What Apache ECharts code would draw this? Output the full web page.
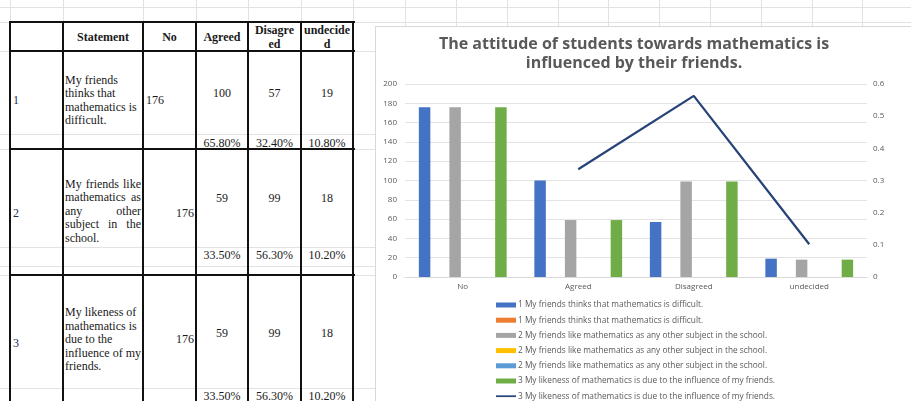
<!DOCTYPE html>
<html>
<head>
<meta charset="utf-8">
<script src="https://cdn.jsdelivr.net/npm/echarts@6/dist/echarts.min.js"></script>
<style>
  html, body { margin:0; padding:0; width:911px; height:401px; overflow:hidden; background:#fff; }
  .hl { position:absolute; height:1px; background:#e2e2e2; }
  .vl { position:absolute; width:1px; background:#e2e2e2; }
  .bh { position:absolute; height:2px; background:#111; }
  .bv { position:absolute; width:2px; background:#111; }
  .t { position:absolute; font-family:"Liberation Serif","Times New Roman",serif; font-size:12px; color:#1a1a1a; line-height:13px; white-space:nowrap; transform:translateY(-50%); }
  .b { font-weight:bold; }
  .c { text-align:center; }
  .j { text-align:justify; text-align-last:justify; }
  #box { position:absolute; left:375px; top:26px; width:540px; height:440px; border-left:1px solid #d9d9d9; border-top:1px solid #d9d9d9; background:#fff; }
  #chart { position:absolute; left:0; top:0; width:535px; height:420px; }
</style>
</head>
<body>
<div id="sheet"></div>
<div id="box"><div id="chart"></div></div>
<script>
// ---------- data ----------
var categories = ['No', 'Agreed', 'Disagreed', 'undecided'];
var s1Counts = [176, 100, 57, 19];          // 1 My friends thinks that mathematics is difficult.
var s1Second = [null, null, null, null];    // 1 ... second row (no visible bars)
var s2Counts = [176, 59, 99, 18];           // 2 My friends like mathematics ...
var s2Second = [null, null, null, null];    // 2 ... (no visible bars)
var s2Third = [null, null, null, null];     // 2 ... (no visible bars)
var s3Counts = [176, 59, 99, 18];           // 3 My likeness of mathematics ...
var s3Pct = [null, 0.335, 0.563, 0.102];    // 3 ... (line, secondary axis)
var leftTicks = [0, 200, 20];
var rightTicks = [0, 0.6, 0.1];

var statementNames = [
  '1 My friends thinks that mathematics is difficult.',
  '2 My friends like mathematics as any other subject in the school.',
  '3 My likeness of mathematics is due to the influence of my friends.'
];

// table data
var tableHeader = ['Statement', 'No', 'Agreed', 'Disagre|ed', 'undecide|d'];
var tableIds = ['1', '2', '3'];
var tableStatements = [
  ['My friends', 'thinks that', 'mathematics is', 'difficult.'],
  ['My friends like', 'mathematics as', 'any other', 'subject in the', 'school.'],
  ['My likeness of', 'mathematics is', 'due to the', 'influence of my', 'friends.']
];
var tableNo = ['176', '176', '176'];
var tableAgreed = ['100', '59', '59'];
var tableDisagreed = ['57', '99', '99'];
var tableUndecided = ['19', '18', '18'];
var tableAgreedPct = ['65.80%', '33.50%', '33.50%'];
var tableDisagreedPct = ['32.40%', '56.30%', '56.30%'];
var tableUndecidedPct = ['10.80%', '10.20%', '10.20%'];

// ---------- spreadsheet + table (HTML) ----------
var sheet = document.getElementById('sheet');
function el(cls, style, txt) {
  var d = document.createElement('div');
  d.className = cls;
  for (var k in style) d.style[k] = style[k];
  if (txt !== undefined) d.textContent = txt;
  sheet.appendChild(d);
  return d;
}
var gridRows = [7, 22, 51, 134, 149, 247, 266, 275, 388];
gridRows.forEach(function (y) { el('hl', {left:'0px', top:y + 'px', width:'911px'}); });
var gridCols = [10, 63, 143, 196, 248, 301, 353, 405, 456, 507, 558, 608, 659, 710, 761, 812, 862];
gridCols.forEach(function (x) { el('vl', {left:x + 'px', top:'0px', height:'27px'}); });

var cols = [10, 63, 143, 196, 248, 301, 353];
var rows = [22, 51, 149, 275];
rows.forEach(function (y) { el('bh', {left:'10px', top:(y - 1) + 'px', width:'345px'}); });
cols.forEach(function (x) { el('bv', {left:(x - 1) + 'px', top:'21px', height:'390px'}); });

function centerText(ci, y, s, extra) {
  var x0 = cols[ci], x1 = cols[ci + 1];
  return el('t c' + (extra || ''), {left:x0 + 'px', width:(x1 - x0) + 'px', top:y + 'px'}, s);
}
// header
tableHeader.forEach(function (h, i) {
  var parts = h.split('|');
  if (parts.length === 1) centerText(i + 1, 37, parts[0], ' b');
  else { centerText(i + 1, 30, parts[0], ' b'); centerText(i + 1, 44, parts[1], ' b'); }
});
var rowIdY = [100, 213, 343];
var stmtY = [[80, 93, 107, 120], [184, 197, 211, 224, 238], [312, 326, 339, 353, 366]];
var noY = [100, 213, 339];
var cntY = [93, 198, 333];
var pctY = [143, 255, 396];
for (var r = 0; r < 3; r++) {
  el('t', {left:'13px', top:rowIdY[r] + 'px', color:'#1f2a5a'}, tableIds[r]);
  tableStatements[r].forEach(function (line, li, arr) {
    var cls = 't';
    if (r === 1 && li < arr.length - 1) cls += ' j';
    el(cls, {left:'65px', width:'76px', top:stmtY[r][li] + 'px'}, line);
  });
  if (r === 0) el('t', {left:'146px', top:noY[r] + 'px'}, tableNo[r]);
  else el('t', {left:'146px', width:'48px', textAlign:'right', top:noY[r] + 'px'}, tableNo[r]);
  centerText(3, cntY[r], tableAgreed[r]);
  centerText(4, cntY[r], tableDisagreed[r]);
  centerText(5, cntY[r], tableUndecided[r]);
  centerText(3, pctY[r], tableAgreedPct[r]);
  centerText(4, pctY[r], tableDisagreedPct[r]);
  centerText(5, pctY[r], tableUndecidedPct[r]);
}

// ---------- chart ----------
var font = '"Open Sans", Lato, sans-serif';
var grey = '#595959';
// names made unique with trailing spaces (legend shows duplicates like Excel)
var names = [
  statementNames[0],
  statementNames[0] + ' ',
  statementNames[1],
  statementNames[1] + ' ',
  statementNames[1] + '  ',
  statementNames[2],
  statementNames[2] + ' '
];
var colors = ['#4472C4', '#ED7D31', '#A5A5A5', '#FFC000', '#5B9BD5', '#70AD47', '#264478'];
var barData = [s1Counts, s1Second, s2Counts, s2Second, s2Third, s3Counts];

var series = barData.map(function (d, i) {
  return {
    name: names[i], type: 'bar', data: d, yAxisIndex: 0,
    itemStyle: { color: colors[i] },
    barGap: '33%', barCategoryGap: '24%'
  };
});
series.push({
  name: names[6], type: 'line', data: s3Pct, yAxisIndex: 1,
  symbol: 'none', itemStyle: { color: colors[6] },
  lineStyle: { color: colors[6], width: 2.25 }
});

var chart = echarts.init(document.getElementById('chart'), null, { renderer: 'canvas' });
chart.setOption({
  animation: false,
  color: colors,
  title: {
    text: 'The attitude of students towards mathematics is\ninfluenced by their friends.',
    left: 258, top: 8, textAlign: 'center', padding: 0,
    textStyle: { fontFamily: font, fontSize: 16, fontWeight: 'bold', color: grey, lineHeight: 19 }
  },
  grid: { left: 29, right: 44, top: 57, height: 193, containLabel: false },
  legend: {
    orient: 'vertical', left: 120, top: 273, padding: 0, itemGap: 5.2,
    itemWidth: 20, itemHeight: 5,
    data: names.map(function (n, i) {
      return i < 6 ? { name: n, icon: 'rect' } : { name: n, icon: 'path://M0,0H46V4H0Z' };
    }),
    formatter: function (n) { return n.replace(/\s+$/, ''); },
    textStyle: { fontFamily: font, fontSize: 8.3, color: grey, lineHeight: 10, padding: [0, 0, 0, -3] }
  },
  xAxis: {
    type: 'category', data: categories,
    axisLine: { lineStyle: { color: '#d9d9d9' } },
    axisTick: { show: false },
    axisLabel: { fontFamily: font, fontSize: 8, color: grey, margin: 6 }
  },
  yAxis: [
    {
      type: 'value', min: leftTicks[0], max: leftTicks[1], interval: leftTicks[2],
      axisLine: { show: false }, axisTick: { show: false },
      splitLine: { lineStyle: { color: '#e3e3e3' } },
      axisLabel: { fontFamily: font, fontSize: 8, color: grey, margin: 8 }
    },
    {
      type: 'value', min: rightTicks[0], max: rightTicks[1], interval: rightTicks[2],
      axisLine: { show: false }, axisTick: { show: false },
      splitLine: { show: false },
      axisLabel: { fontFamily: font, fontSize: 8, color: grey, margin: 6,
        formatter: function (v) { return String(Math.round(v * 10) / 10); } }
    }
  ],
  series: series
});
</script>
</body>
</html>
